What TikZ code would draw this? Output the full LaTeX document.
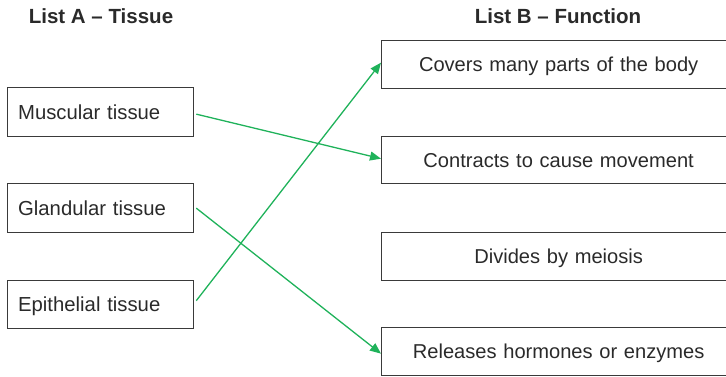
\documentclass[tikz,border=0pt]{standalone}
\usepackage{fontspec}
\setmainfont{Liberation Sans}
\usetikzlibrary{arrows.meta}
\definecolor{boxline}{HTML}{3A3A3A}
\definecolor{txt}{HTML}{2A2A2A}
\definecolor{grn}{HTML}{1FB25A}
\begin{document}
\begin{tikzpicture}[x=1pt,y=-1pt,
  tissue/.style={draw=boxline,line width=1.3pt,minimum width=186pt,minimum height=48pt,
    text width=165pt,align=left,inner sep=0pt,anchor=north west,
    text height=14.5pt,text depth=0pt,
    font=\fontsize{20.3}{22}\selectfont,text=txt},
  func/.style={draw=boxline,line width=1.3pt,minimum width=354pt,minimum height=47pt,
    text width=340pt,align=center,
    inner sep=0pt,anchor=north west,text height=14.5pt,text depth=0pt,
    font=\fontsize{20.1}{22}\selectfont,text=txt},
  header/.style={font=\bfseries\fontsize{20.5}{22}\selectfont,text=txt,inner sep=0pt,
    text height=14.5pt,text depth=0pt},
  link/.style={draw=grn,line width=1.3pt,-{Triangle[length=11pt,width=9pt]}}]
\useasboundingbox (0,0) rectangle (726,376);
\node[header] (ha) at (101,16.5) {List A – Tissue};
\node[header] (hb) at (558,16.5) {List B – Function};
\node[tissue,minimum height=49pt] (mus) at (7,87) {Muscular tissue};
\node[tissue,minimum height=49pt] (gla) at (7,183) {Glandular tissue};
\node[tissue] (epi) at (7,280) {Epithelial tissue};
\node[func,minimum height=48pt] (cov) at (381,40) {Covers many parts of the body};
\node[func] (con) at (381,136) {Contracts to cause movement};
\node[func,minimum height=48pt] (div) at (381,232) {Divides by meiosis};
\node[func,minimum height=48pt] (rel) at (381,327) {Releases hormones or enzymes};
\draw[link] ([xshift=2pt,yshift=-2pt]mus.east) -- ([yshift=1.5pt]con.west);
\draw[link] ([xshift=2pt]gla.east) -- ([yshift=-2pt]rel.west);
\draw[link] ([xshift=2pt,yshift=4pt]epi.east) -- ([yshift=2pt]cov.west);
\end{tikzpicture}
\end{document}
